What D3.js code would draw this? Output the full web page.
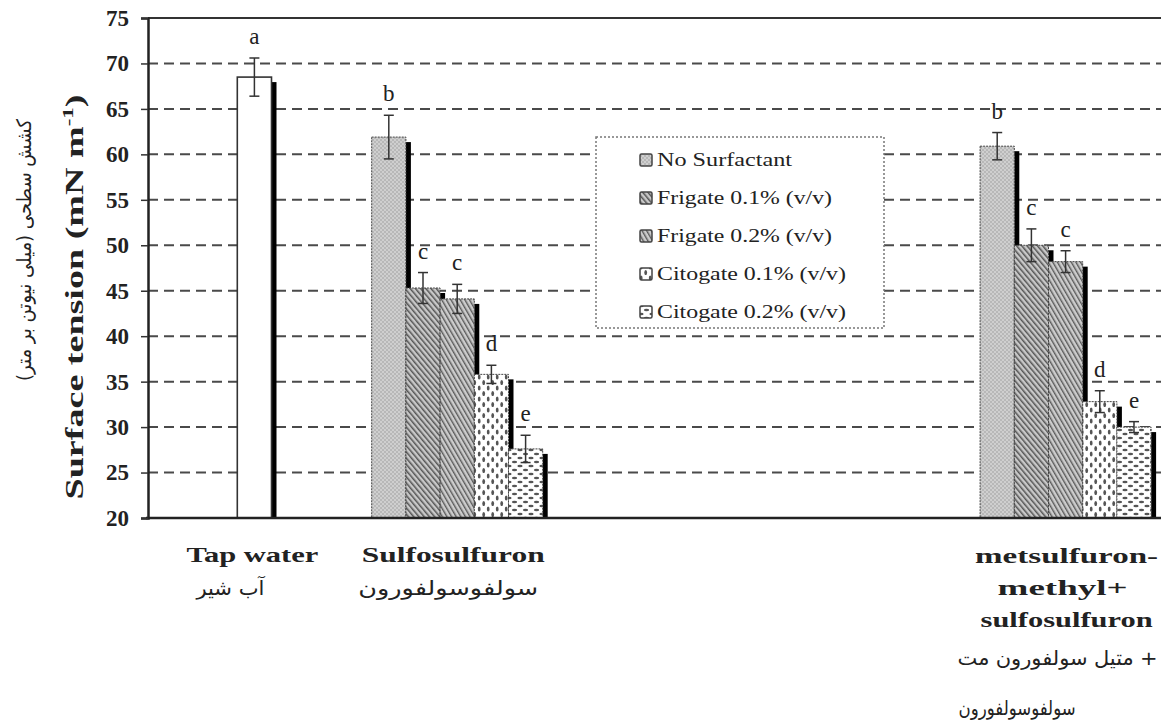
<!DOCTYPE html>
<html><head><meta charset="utf-8">
<script src="https://cdn.jsdelivr.net/npm/d3@7"></script>
<style>body{margin:0;background:#fff;overflow:hidden}</style>
</head><body>
<svg id="c" width="1161" height="724"></svg>
<script>
// ---------- data ----------
const slots = ["Tap water", "Sulfosulfuron", "gap1", "gap2", "metsulfuron-methyl + sulfosulfuron"];
const series = ["No Surfactant", "Frigate 0.1% (v/v)", "Frigate 0.2% (v/v)", "Citogate 0.1% (v/v)", "Citogate 0.2% (v/v)"];
const tapValues = [68.5];
const tapErrors = [2.1];
const tapLetters = ["a"];
const sulfoValues = [61.9, 45.3, 44.1, 35.8, 27.6];
const sulfoErrors = [2.4, 1.7, 1.6, 1.0, 1.5];
const sulfoLetters = ["b", "c", "c", "d", "e"];
const metValues = [60.9, 50.0, 48.2, 32.8, 30.0];
const metErrors = [1.5, 1.8, 1.2, 1.2, 0.6];
const metLetters = ["b", "c", "c", "d", "e"];
const yTicks = [20, 25, 30, 35, 40, 45, 50, 55, 60, 65, 70, 75];
const yTitleEn = "Surface tension (mN m";
const yTitleFa = "کشش سطحی (میلی نیوتن بر متر)";
const tapLabelFa = "آب شیر";
const sulfoLabelFa = "سولفوسولفورون";
const metLabelEn = ["metsulfuron-", "methyl+", "sulfosulfuron"];
// words of the first Persian line, in the left-to-right order in which they appear
const metLabelFaWords = ["مت", "سولفورون", "متیل", "+"];
const metLabelFa2 = "سولفوسولفورون";

(function () {
// ---------- setup ----------
const svg = d3.select("#c");
const SERIF = "'Liberation Serif','Times New Roman',serif";
const FA = "'DejaVu Sans','Noto Sans',sans-serif";
const PL = 148, PB = 518, PT = 18;
const y = d3.scaleLinear().domain([20, 75]).range([PB, PT]);
const x = d3.scaleBand().domain(slots).range([153, 1167]).padding(0);
const xs = d3.scaleBand().domain(series).range([0, x.bandwidth()]).paddingInner(0).paddingOuter(0.465);
const bw = xs.bandwidth();

// patterns
const defs = svg.append("defs");
const pats = ["p0", "p1", "p2", "p3", "p4"];
{
  const p0 = defs.append("pattern").attr("id", "p0").attr("patternUnits", "userSpaceOnUse").attr("width", 4).attr("height", 4);
  p0.append("rect").attr("width", 4).attr("height", 4).attr("fill", "#dadada");
  p0.append("path").attr("d", "M0,1 Q1,0 2,1 T4,1 M0,3 Q1,4 2,3 T4,3").attr("fill", "none").attr("stroke", "#999").attr("stroke-width", 0.7);

  const p1 = defs.append("pattern").attr("id", "p1").attr("patternUnits", "userSpaceOnUse").attr("width", 4).attr("height", 4).attr("patternTransform", "rotate(-40)");
  p1.append("rect").attr("width", 4).attr("height", 4).attr("fill", "#c8c8c8");
  p1.append("rect").attr("width", 1.5).attr("height", 4).attr("fill", "#555");

  const p2 = defs.append("pattern").attr("id", "p2").attr("patternUnits", "userSpaceOnUse").attr("width", 4).attr("height", 4).attr("patternTransform", "rotate(-30)");
  p2.append("rect").attr("width", 4).attr("height", 4).attr("fill", "#cccccc");
  p2.append("rect").attr("width", 1.4).attr("height", 4).attr("fill", "#5a5a5a");

  const p3 = defs.append("pattern").attr("id", "p3").attr("patternUnits", "userSpaceOnUse").attr("width", 9).attr("height", 11);
  p3.append("rect").attr("width", 9).attr("height", 11).attr("fill", "#fff");
  p3.append("ellipse").attr("cx", 2.2).attr("cy", 3).attr("rx", 1.4).attr("ry", 2.6).attr("fill", "#555");
  p3.append("ellipse").attr("cx", 6.7).attr("cy", 8.5).attr("rx", 1.4).attr("ry", 2.6).attr("fill", "#555");

  const p4 = defs.append("pattern").attr("id", "p4").attr("patternUnits", "userSpaceOnUse").attr("width", 11).attr("height", 8);
  p4.append("rect").attr("width", 11).attr("height", 8).attr("fill", "#fff");
  p4.append("ellipse").attr("cx", 3).attr("cy", 2).attr("rx", 2.6).attr("ry", 1.2).attr("fill", "#555");
  p4.append("ellipse").attr("cx", 8.5).attr("cy", 6).attr("rx", 2.6).attr("ry", 1.2).attr("fill", "#555");
}

// gridlines
svg.append("g").selectAll("line").data(yTicks.filter(t => t > 20 && t < 75)).join("line")
  .attr("x1", PL).attr("x2", 1161).attr("y1", d => y(d)).attr("y2", d => y(d))
  .attr("stroke", "#4a4a4a").attr("stroke-width", 2).attr("stroke-dasharray", "10,6");

// bars
function drawGroup(slot, values, errors, letters, patterned) {
  const g = svg.append("g");
  const x0 = x(slot);
  const bxOf = i => patterned ? x0 + xs(series[i]) : x0 + x.bandwidth() / 2 - bw / 2;
  values.forEach((v, i) => {
    const bx = bxOf(i);
    g.append("rect").attr("x", bx + bw).attr("y", y(v) + 5).attr("width", 5).attr("height", PB - y(v) - 5).attr("fill", "#000");
    g.append("rect").attr("x", bx).attr("y", y(v)).attr("width", bw).attr("height", PB - y(v))
      .attr("fill", patterned ? `url(#${pats[i]})` : "#fff")
      .attr("stroke", patterned ? "#444" : "#333").attr("stroke-width", patterned ? 1 : 1.6)
      .attr("stroke-dasharray", patterned ? "2,1" : null);
  });
  values.forEach((v, i) => {
    const cx = bxOf(i) + bw / 2;
    const e = errors[i];
    const eg = g.append("g").attr("stroke", "#333").attr("stroke-width", 1.5);
    eg.append("line").attr("x1", cx).attr("x2", cx).attr("y1", y(v + e)).attr("y2", y(v - e));
    eg.append("line").attr("x1", cx - 5).attr("x2", cx + 5).attr("y1", y(v + e)).attr("y2", y(v + e));
    eg.append("line").attr("x1", cx - 5).attr("x2", cx + 5).attr("y1", y(v - e)).attr("y2", y(v - e));
    g.append("text").attr("x", cx).attr("y", y(v + e) - 14).attr("text-anchor", "middle")
      .attr("font-family", SERIF).attr("font-size", 23).attr("fill", "#222").text(letters[i]);
  });
}
drawGroup("Tap water", tapValues, tapErrors, tapLetters, false);
drawGroup("Sulfosulfuron", sulfoValues, sulfoErrors, sulfoLetters, true);
drawGroup("metsulfuron-methyl + sulfosulfuron", metValues, metErrors, metLetters, true);

// frame / axes
svg.append("line").attr("x1", PL).attr("x2", 1161).attr("y1", PT).attr("y2", PT).attr("stroke", "#333").attr("stroke-width", 2);
svg.append("line").attr("x1", PL - 2).attr("x2", 1161).attr("y1", PB).attr("y2", PB).attr("stroke", "#222").attr("stroke-width", 2.5);
const yAxis = svg.append("g").attr("transform", `translate(${PL},0)`)
  .call(d3.axisLeft(y).tickValues(yTicks).tickSize(7).tickPadding(12));
yAxis.select(".domain").attr("stroke", "#222").attr("stroke-width", 2.5);
yAxis.selectAll(".tick line").attr("stroke", "#333").attr("stroke-width", 1.5);
yAxis.selectAll(".tick text").attr("font-family", SERIF).attr("font-weight", "bold").attr("font-size", 23).attr("fill", "#222");

// y titles
const yt = svg.append("text").attr("transform", "translate(83,297) rotate(-90)").attr("text-anchor", "middle")
  .attr("font-family", SERIF).attr("font-weight", "bold").attr("font-size", 25).attr("fill", "#222")
  .attr("textLength", 405).attr("lengthAdjust", "spacingAndGlyphs");
yt.append("tspan").text(yTitleEn);
yt.append("tspan").attr("font-size", 15).attr("dy", -10).text("-1");
yt.append("tspan").attr("dy", 10).text(")");

svg.append("text").attr("transform", "translate(31,250) rotate(-90)").attr("text-anchor", "middle")
  .attr("direction", "rtl").attr("font-family", FA).attr("font-size", 20).attr("fill", "#222")
  .attr("textLength", 262).attr("lengthAdjust", "spacingAndGlyphs").text(yTitleFa);

// x labels
const cx = s => x(s) + x.bandwidth() / 2;
function lab(t, px, py, w, opts = {}) {
  const el = svg.append("text").attr("x", px).attr("y", py).attr("text-anchor", opts.anchor || "middle")
    .attr("font-family", opts.fa ? FA : SERIF).attr("font-weight", opts.fa ? "normal" : "bold")
    .attr("font-size", opts.fa ? 20 : 22).attr("fill", "#222").text(t);
  if (w) el.attr("textLength", w).attr("lengthAdjust", "spacingAndGlyphs");
  return el;
}
lab(slots[0], cx(slots[0]) - 2, 562, 132);
lab(tapLabelFa, cx(slots[0]) - 24, 595, 68, {fa: true});
lab(slots[1], cx(slots[1]) - 4, 562, 183);
lab(sulfoLabelFa, cx(slots[1]) - 9, 595, 180, {fa: true});
lab(metLabelEn[0], cx(slots[4]) + 1, 563, 183);
lab(metLabelEn[1], cx(slots[4]) - 3, 595, 130);
lab(metLabelEn[2], cx(slots[4]) + 1, 627, 172);

// first Persian line of the third group: words placed left-to-right one by one
{
  const startX = cx(slots[4]) - 108, targetW = 200;
  const wg = svg.append("g");
  let cur = 0;
  const gap = 6;
  metLabelFaWords.forEach(w => {
    const t = wg.append("text").attr("x", cur).attr("y", 0).attr("font-family", FA).attr("font-size", 20)
      .attr("fill", "#222").text(w);
    cur += t.node().getComputedTextLength() + gap;
  });
  const total = cur - gap;
  wg.attr("transform", `translate(${startX},665) scale(${targetW / total},1)`);
}
lab(metLabelFa2, cx(slots[4]) - 107, 715, 117, {fa: true, anchor: "start"});

// legend
const lg = svg.append("g");
lg.append("rect").attr("x", 596).attr("y", 137).attr("width", 288).attr("height", 191)
  .attr("fill", "#fff").attr("stroke", "#777").attr("stroke-width", 1.5).attr("stroke-dasharray", "2,2");
const rowY = d3.scalePoint().domain(series).range([160, 312]);
const legW = [135, 175, 175, 189, 189];
series.forEach((s, i) => {
  lg.append("rect").attr("x", 640).attr("y", rowY(s) - 6).attr("width", 12).attr("height", 12).attr("rx", 1.5)
    .attr("fill", `url(#${pats[i]})`).attr("stroke", "#444").attr("stroke-width", 1.5);
  lg.append("text").attr("x", 657).attr("y", rowY(s) + 6).attr("font-family", SERIF).attr("font-size", 19)
    .attr("fill", "#222").attr("textLength", legW[i]).attr("lengthAdjust", "spacingAndGlyphs").text(s);
});
})();
</script>
</body></html>
